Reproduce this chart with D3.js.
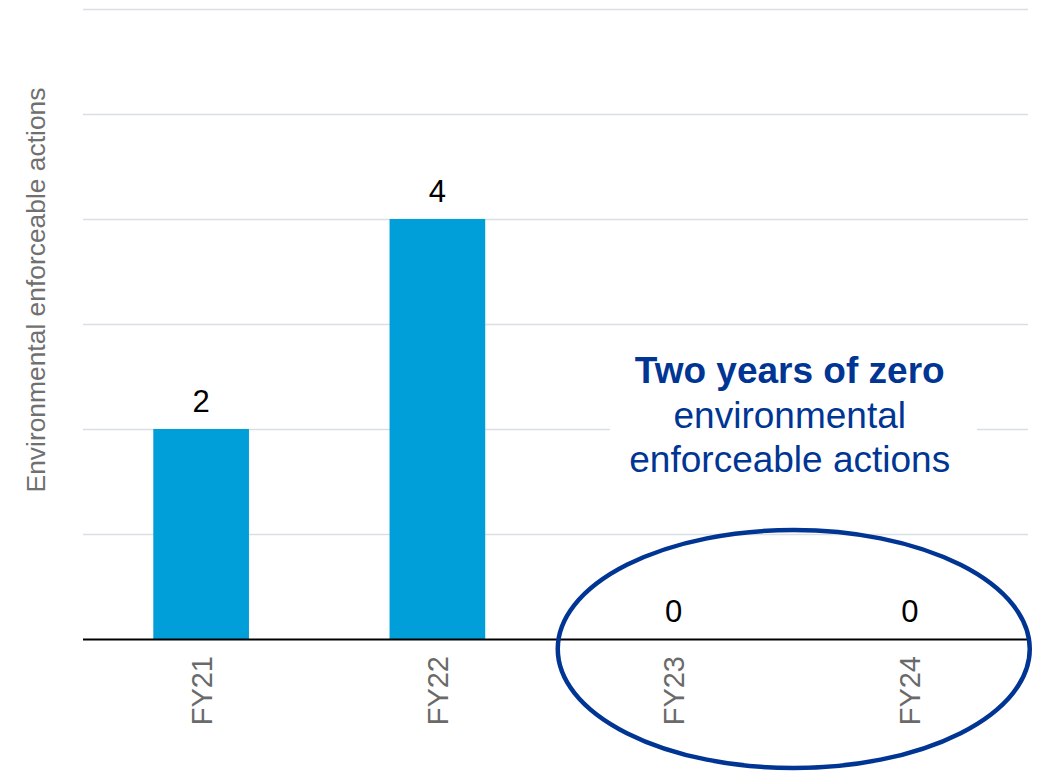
<!DOCTYPE html>
<html>
<head>
<meta charset="utf-8">
<script src="https://cdn.jsdelivr.net/npm/d3@7"></script>
<style>
  html, body { margin: 0; padding: 0; background: #ffffff; }
  svg { display: block; font-family: "Liberation Sans", Arial, Helvetica, sans-serif; }
</style>
</head>
<body>
<svg id="chart" width="1038" height="772"></svg>
<script>
// Environmental enforceable actions by financial year
const categories = ["FY21", "FY22", "FY23", "FY24"];
const actions = [2, 4, 0, 0];
const yTicks = [0, 1, 2, 3, 4, 5, 6];
const yTitle = "Environmental enforceable actions";
const noteBold = "Two years of zero";
const noteLines = ["environmental", "enforceable actions"];
const highlighted = ["FY23", "FY24"];

const svg = d3.select("#chart");
const plot = { left: 83, right: 1028, top: 9, bottom: 639 };

const x = d3.scaleBand()
  .domain(categories)
  .range([plot.left, plot.right])
  .paddingInner(0.595)
  .paddingOuter(0.2975);

const y = d3.scaleLinear()
  .domain([0, 6])
  .range([plot.bottom, plot.top]);

// Horizontal gridlines
svg.append("g")
  .selectAll("line")
  .data(yTicks.filter(d => d > 0))
  .join("line")
  .attr("x1", plot.left)
  .attr("x2", plot.right)
  .attr("y1", d => Math.round(y(d)) + 0.5)
  .attr("y2", d => Math.round(y(d)) + 0.5)
  .attr("stroke", "#d9dee5")
  .attr("stroke-width", 1.5);

// Bars
svg.append("g")
  .selectAll("rect")
  .data(categories.map((c, i) => ({ c, v: actions[i] })))
  .join("rect")
  .attr("x", d => x(d.c))
  .attr("width", x.bandwidth())
  .attr("y", d => y(d.v))
  .attr("height", d => y(0) - y(d.v))
  .attr("fill", "#009fda");

// Baseline
svg.append("line")
  .attr("x1", plot.left)
  .attr("x2", plot.right)
  .attr("y1", y(0) + 0.5)
  .attr("y2", y(0) + 0.5)
  .attr("stroke", "#000000")
  .attr("stroke-width", 2);

// Value labels
svg.append("g")
  .selectAll("text")
  .data(categories.map((c, i) => ({ c, v: actions[i] })))
  .join("text")
  .attr("x", d => x(d.c) + x.bandwidth() / 2)
  .attr("y", d => y(d.v) - 17)
  .attr("text-anchor", "middle")
  .attr("font-size", 31)
  .attr("fill", "#000000")
  .text(d => d.v);

// Category axis labels (rotated)
const xAxis = d3.axisBottom(x).tickSize(0).tickPadding(0);
const gx = svg.append("g")
  .attr("transform", `translate(0,${plot.bottom})`)
  .call(xAxis);
gx.select(".domain").remove();
gx.selectAll(".tick text")
  .attr("transform", "translate(0,17) rotate(-90)")
  .attr("x", 0)
  .attr("y", 0)
  .attr("dy", "0.36em")
  .attr("text-anchor", "end")
  .attr("font-size", 29)
  .attr("font-family", "\"Liberation Sans\", Arial, sans-serif")
  .attr("fill", "#6a6a6a");

// Y axis title
svg.append("text")
  .attr("transform", `translate(45,${(y(0) + y(6)) / 2 - 34}) rotate(-90)`)
  .attr("text-anchor", "middle")
  .attr("font-size", 26.4)
  .attr("fill", "#707070")
  .text(yTitle);

// Annotation box with text
const noteX = (x(highlighted[0]) + x(highlighted[1]) + x.bandwidth()) / 2 - 2;
svg.append("rect")
  .attr("x", 610)
  .attr("y", 342)
  .attr("width", 367)
  .attr("height", 148)
  .attr("fill", "#ffffff");

const note = svg.append("text")
  .attr("text-anchor", "middle")
  .attr("fill", "#003594")
  .attr("font-size", 37);
note.append("tspan")
  .attr("x", noteX)
  .attr("y", 383)
  .attr("font-weight", "bold")
  .text(noteBold);
noteLines.forEach((t, i) => {
  note.append("tspan")
    .attr("x", noteX)
    .attr("y", 383 + 44.5 * (i + 1))
    .text(t);
});

// Ellipse highlighting the zero years
const ex0 = x(highlighted[0]) + x.bandwidth() / 2;
const ex1 = x(highlighted[1]) + x.bandwidth() / 2;
svg.append("ellipse")
  .attr("cx", (ex0 + ex1) / 2 + 2)
  .attr("cy", y(0) + 10)
  .attr("rx", 236)
  .attr("ry", 119)
  .attr("fill", "none")
  .attr("stroke", "#003594")
  .attr("stroke-width", 4.5);
</script>
</body>
</html>
